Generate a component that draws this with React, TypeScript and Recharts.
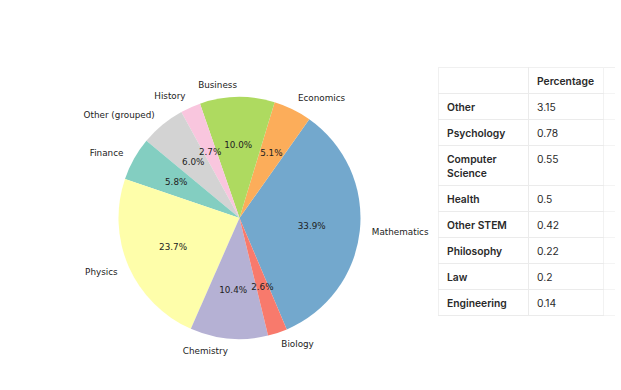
import React from "react";
import { PieChart, Pie, Cell } from "recharts";

const categories = ["Mathematics", "Economics", "Business", "History", "Other (grouped)", "Finance", "Physics", "Chemistry", "Biology"];
const shares = [33.9, 5.1, 10.0, 2.7, 6.0, 5.8, 23.7, 10.4, 2.6];
const colors = ["#73a8cd", "#fcad5a", "#aeda60", "#f9c6de", "#d3d3d3", "#83cec1", "#fefeaa", "#b5b1d4", "#f87a6c"];

const tableHeader = "Percentage";
const tableLabels = ["Other", "Psychology", "Computer Science", "Health", "Other STEM", "Philosophy", "Law", "Engineering"];
const tableValues = ["3.15", "0.78", "0.55", "0.5", "0.42", "0.22", "0.2", "0.14"];

const data = categories.map((name, i) => ({ name, value: shares[i] }));

const RAD = Math.PI / 180;
const FONT = "'DejaVu Sans', sans-serif";

const renderLabel = (props: any) => {
  const { cx, cy, midAngle, outerRadius, name, value } = props;
  const c = Math.cos(-midAngle * RAD);
  const s = Math.sin(-midAngle * RAD);
  const lr = outerRadius * 1.1;
  const pr = outerRadius * 0.6;
  const lx = cx + lr * c;
  const ly = cy + lr * s;
  const px = cx + pr * c;
  const py = cy + pr * s;
  return (
    <g>
      <text x={lx} y={ly} textAnchor={c >= 0 ? "start" : "end"} dominantBaseline="central" fontSize={8.8} fontFamily={FONT} fill="#222">
        {name}
      </text>
      <text x={px} y={py} textAnchor="middle" dominantBaseline="central" fontSize={8.8} fontFamily={FONT} fill="#222">
        {`${Number(value).toFixed(1)}%`}
      </text>
    </g>
  );
};

const cellBase: React.CSSProperties = {
  borderBottom: "1px solid #ebebeb",
  padding: "6px 7px 5px 8px",
  lineHeight: "14px",
  verticalAlign: "top",
  textAlign: "left",
};

export default function App() {
  return (
    <div style={{ position: "absolute", left: 0, top: 0, width: 621, height: 390, background: "#fff" }}>
      <PieChart width={621} height={390} margin={{ top: 0, right: 0, bottom: 0, left: 0 }}>
        <Pie
          data={data}
          dataKey="value"
          nameKey="name"
          cx={239.5}
          cy={218}
          outerRadius={121}
          startAngle={-67}
          endAngle={293}
          stroke="none"
          label={renderLabel}
          labelLine={false}
          isAnimationActive={false}
        >
          {data.map((d, i) => (
            <Cell key={d.name} fill={colors[i]} />
          ))}
        </Pie>
      </PieChart>
      <table
        style={{
          position: "absolute",
          left: 438,
          top: 67,
          width: 176,
          borderCollapse: "collapse",
          tableLayout: "fixed",
          fontFamily: "Inter, 'Noto Sans', sans-serif",
          fontSize: 10.3,
          color: "#2a2a2a",
          borderTop: "1px solid #f0f0f0",
          borderLeft: "1px solid #f0f0f0",
        }}
      >
        <colgroup>
          <col style={{ width: 90 }} />
          <col style={{ width: 75 }} />
          <col style={{ width: 11 }} />
        </colgroup>
        <thead>
          <tr>
            <th style={{ ...cellBase, borderRight: "1px solid #ebebeb" }}></th>
            <th style={{ ...cellBase, fontWeight: 600, borderRight: "1px solid #f2f2f2" }}>{tableHeader}</th>
            <th style={{ ...cellBase, borderBottom: "1px solid #f4f4f4" }}></th>
          </tr>
        </thead>
        <tbody>
          {tableLabels.map((lab, i) => (
            <tr key={lab}>
              <td style={{ ...cellBase, fontWeight: 600, borderRight: "1px solid #ebebeb", height: lab === "Computer Science" ? 28 : 14 }}>{lab}</td>
              <td style={{ ...cellBase, borderRight: "1px solid #f2f2f2" }}>{tableValues[i]}</td>
              <td style={{ ...cellBase, borderBottom: "1px solid #f4f4f4" }}></td>
            </tr>
          ))}
        </tbody>
      </table>
    </div>
  );
}
